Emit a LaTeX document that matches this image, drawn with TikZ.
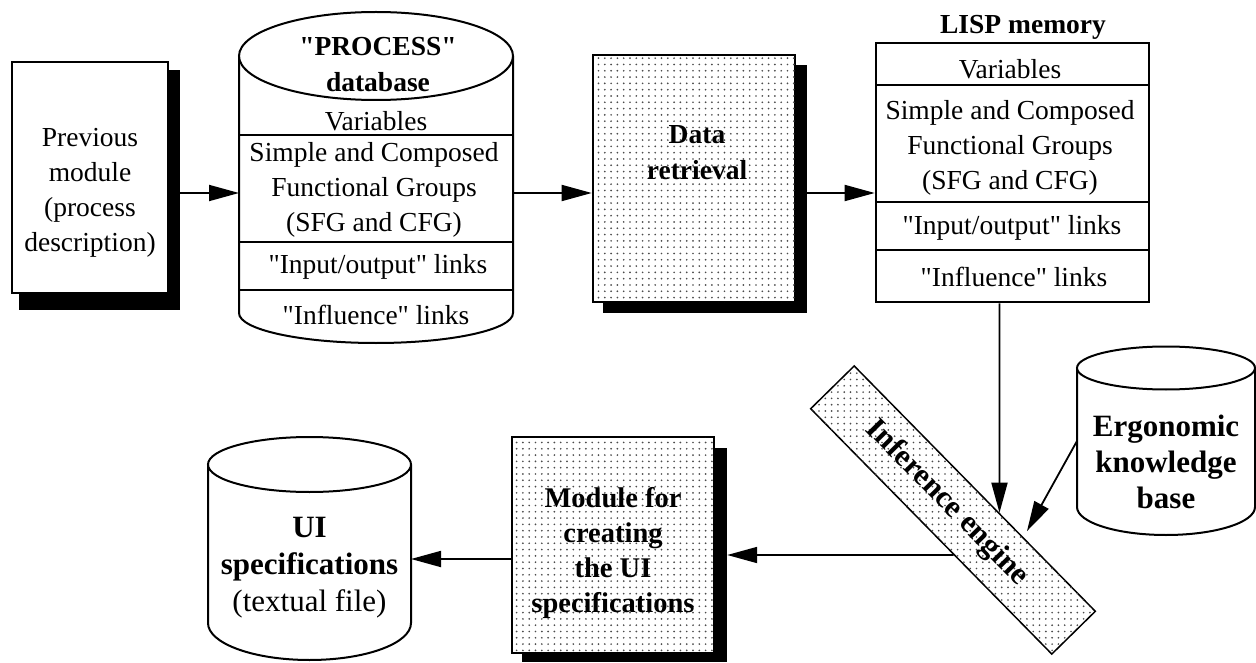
\documentclass[tikz,border=0pt]{standalone}
\usepackage{fontspec}
\setmainfont{Liberation Serif}[Ligatures=TeXOff]
\usetikzlibrary{arrows.meta,patterns.meta,calc}
\newcommand{\sq}{\char34 }
\begin{document}
\begin{tikzpicture}[x=1pt,y=-1pt,
  arr/.style={line width=1.8pt,-{Triangle[length=30pt,width=16pt]}},
  frame/.style={draw,line width=2.6pt,fill=white,inner sep=0pt},
  dotted box/.style={postaction={pattern={Dots[distance=6.3pt,radius=0.95pt]},pattern color=black!70}},
  shadowbox/.style={fill=black,inner sep=0pt},
  cyl/.style={line width=2pt,fill=white},
  sep/.style={line width=2pt},
  txt/.style={font=\fontsize{27.5}{35}\selectfont,align=center,inner sep=0pt},
  btxt/.style={font=\fontsize{27.5}{36}\selectfont\bfseries,align=center,inner sep=0pt},
  bigtxt/.style={font=\fontsize{31}{37}\selectfont,align=center,inner sep=0pt},
  hold/.style={inner sep=0pt,outer sep=0pt},
]
\useasboundingbox (0,0) rectangle (1256,663);

% ---------- Previous module
\node[shadowbox,minimum width=161pt,minimum height=240pt] (prevsh) at (99.5,190) {};
\node[frame,minimum width=156pt,minimum height=231pt] (prev) at (90,177.5) {};
\node[txt] (prevtxt) at (90,193) {Previous\\module\\(process\\description)};

% ---------- PROCESS database cylinder
\node[hold,minimum width=274pt,minimum height=331pt] (proc) at (376,177.5) {};
\draw[cyl] (239,56) -- (239,313) arc[start angle=180,end angle=360,x radius=137pt,y radius=30pt] -- (513,56);
\draw[cyl] (376,56) ellipse[x radius=137pt,y radius=44pt];
\draw[sep] (239,135) -- (513,135);
\draw[sep] (239,242) -- (513,242);
\draw[sep] (239,290) -- (513,290);
\node[btxt] (proct) at (378,65) {\sq PROCESS\sq\\database};
\node[txt] (procv) at (376,121) {Variables};
\node[txt] (procs) at (374,190) {Simple and Composed\\Functional Groups\\(SFG and CFG)};
\node[txt] (proci) at (378,267) {\sq Input/output\sq{} links};
\node[txt] (procf) at (376,315) {\sq Influence\sq{} links};

% ---------- Data retrieval
\node[shadowbox,minimum width=204pt,minimum height=248pt] (datash) at (705,189) {};
\node[frame,dotted box,minimum width=202pt,minimum height=247pt] (data) at (694,178.5) {};
\node[btxt] (datat) at (697,153) {Data\\retrieval};

% ---------- LISP memory
\node[btxt] (lispt) at (1023,27) {LISP memory};
\node[frame,minimum width=273pt,minimum height=259pt] (lisp) at (1012.5,172.5) {};
\draw[sep] (876,85) -- (1149,85);
\draw[sep] (876,202) -- (1149,202);
\draw[sep] (876,250) -- (1149,250);
\node[txt] (lispv) at (1010,69) {Variables};
\node[txt] (lisps) at (1010,148) {Simple and Composed\\Functional Groups\\(SFG and CFG)};
\node[txt] (lispi) at (1012,228) {\sq Input/output\sq{} links};
\node[txt] (lispf) at (1014,277) {\sq Influence\sq{} links};

% ---------- Inference engine
\node[draw,line width=1.5pt,fill=white,dotted box,rotate=-45.5,minimum width=344pt,minimum height=61pt] (inf) at (953,510) {};
\node[btxt,font=\fontsize{31}{36}\selectfont\bfseries,rotate=-45.5] (inft) at (947,503) {Inference engine};

% ---------- Ergonomic knowledge base
\node[hold,minimum width=178pt,minimum height=188pt] (erg) at (1166,441) {};
\draw[cyl] (1077,368) -- (1077,507) arc[start angle=180,end angle=360,x radius=89pt,y radius=28pt] -- (1255,368);
\draw[cyl] (1166,368) ellipse[x radius=89pt,y radius=21.5pt];
\node[bigtxt,font=\fontsize{31}{36}\selectfont\bfseries] (ergt) at (1166,462) {Ergonomic\\knowledge\\base};

% ---------- Module for creating the UI specifications
\node[shadowbox,minimum width=205pt,minimum height=214pt] (msh) at (624.5,555) {};
\node[frame,dotted box,minimum width=202pt,minimum height=216pt] (mod) at (613,545) {};
\node[btxt,font=\fontsize{28.5}{35}\selectfont\bfseries] (modt) at (613,553) {Module for\\creating\\the UI\\specifications};

% ---------- UI specifications cylinder
\node[hold,minimum width=203pt,minimum height=223pt] (ui) at (309.5,548.5) {};
\draw[cyl] (208,464.5) -- (208,623) arc[start angle=180,end angle=360,x radius=101.5pt,y radius=37pt] -- (411,464.5);
\draw[cyl] (309.5,464.5) ellipse[x radius=101.5pt,y radius=27.5pt];
\node[bigtxt] (uit) at (309.5,568) {\textbf{UI}\\\textbf{specifications}\\(textual file)};

% ---------- connectors
\coordinate (rowA) at (0,193);
\coordinate (rowB) at (0,559);
\draw[arr] (prevsh.east |- rowA) -- (proc.west |- rowA);
\draw[arr] (proc.east |- rowA) -- (data.west |- rowA);
\draw[arr] (datash.east |- rowA) -- (lisp.west |- rowA);

\coordinate (vA) at ($(lisp.south)+(-13,0)$);
\coordinate (vB) at ($(vA)+(0,400)$);
\draw[arr] (vA) -- (intersection of vA--vB and inf.north west--inf.north east);

\coordinate (eB) at ($(erg.west)+(-50,90)$);
\draw[arr,shorten >=7pt] (erg.west) -- (intersection of erg.west--eB and inf.north west--inf.north east);

\coordinate (hB) at ($(msh.east)+(400,0)$);
\draw[arr] (intersection of inf.south west--inf.south east and msh.east--hB) -- (msh.east);

\draw[arr] (mod.west |- rowB) -- (ui.east |- rowB);
\end{tikzpicture}
\end{document}
